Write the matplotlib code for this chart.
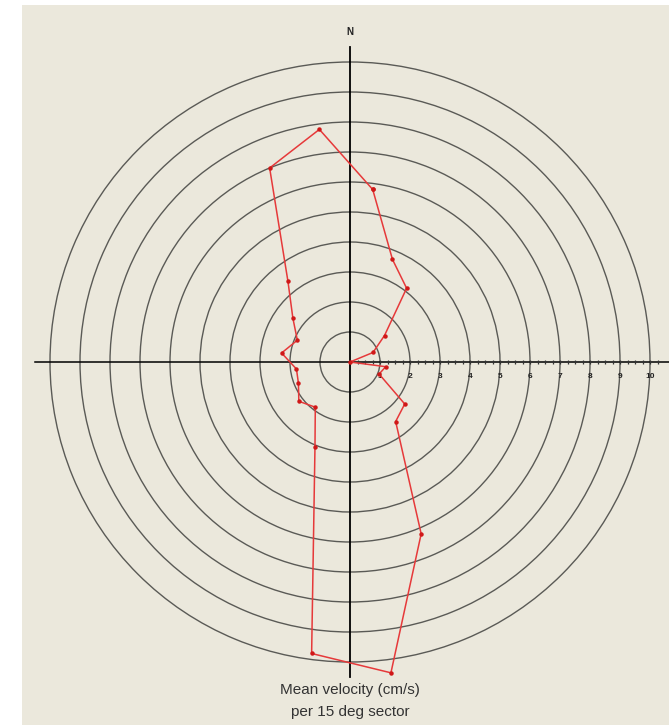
import numpy as np
import matplotlib
matplotlib.use("Agg")
import matplotlib.pyplot as plt
from matplotlib.patches import Rectangle

# Sector centres (deg, compass bearing) and mean velocity (cm/s)
bearings = [7.5, 22.5, 37.5, 52.5, 67.5, 82.5, 97.5, 112.5, 127.5, 142.5, 157.5, 172.5,
            187.5, 202.5, 217.5, 232.5, 247.5, 262.5, 277.5, 292.5, 307.5, 322.5, 337.5, 352.5]
velocity = [5.8, 3.7, 3.1, 1.45, 0.83, 0.0, 1.2, 1.05, 2.3, 2.5, 6.2, 10.45,
            9.8, 3.05, 1.9, 2.15, 1.86, 1.8, 2.3, 1.9, 2.4, 3.4, 7.0, 7.82]
ring_values = [1, 2, 3, 4, 5, 6, 7, 8, 9, 10]
tick_labels = ["1", "2", "3", "4", "5", "6", "7", "8", "9", "10"]

W, H = 669, 725
DPI = 100
fig = plt.figure(figsize=(W / DPI, H / DPI), dpi=DPI, facecolor="white")

# beige panel
fig.patches.append(Rectangle((22 / W, 0), 1 - 22 / W, (H - 5) / H,
                             transform=fig.transFigure, facecolor="#ebe8dc",
                             edgecolor="none", zorder=-10))

RMAX = 10.7
px_per_unit = 30
cx, cy = 350, 362  # centre in pixel coords from top-left
half = RMAX * px_per_unit
ax = fig.add_axes([(cx - half) / W, (H - cy - half) / H, 2 * half / W, 2 * half / H],
                  projection="polar")
ax.set_facecolor("none")
ax.set_theta_zero_location("N")
ax.set_theta_direction(-1)
ax.set_rlim(0, RMAX)
ax.spines["polar"].set_visible(False)
ax.set_xticks([])
ax.set_rgrids(ring_values, labels=[""] * len(ring_values))
ax.yaxis.grid(True, color="#5a5a56", linewidth=1.0)
ax.xaxis.grid(False)
ax.tick_params(axis="y", length=0)

# cross axes
ax.plot([0, 0], [0, 10.5], color="black", lw=1.3, clip_on=False, zorder=3)
ax.plot([np.pi, np.pi], [0, 10.5], color="black", lw=1.3, clip_on=False, zorder=3)
ax.plot([np.pi / 2, np.pi / 2], [0, 10.65], color="black", lw=1.1, clip_on=False, zorder=3)
ax.plot([3 * np.pi / 2, 3 * np.pi / 2], [0, 10.5], color="black", lw=1.1, clip_on=False, zorder=3)

# ticks along east axis
minor_r = np.arange(0.25, 10.5, 0.25)
ax.plot(np.full_like(minor_r, np.pi / 2), minor_r, linestyle="none", marker="|",
        markersize=3, color="#333333", markeredgewidth=0.9, clip_on=False, zorder=3)
for val, lab in zip(ring_values, tick_labels):
    ax.annotate(lab, xy=(np.pi / 2, val), xytext=(0, -15), textcoords="offset pixels",
                ha="center", va="center", fontsize=6, fontweight="bold", color="#222222",
                family="Liberation Sans", zorder=4)

# data polygon
theta = np.deg2rad(bearings + bearings[:1])
r = np.array(velocity + velocity[:1])
ax.plot(theta, r, color="#e6393a", lw=1.1, marker="o", markersize=2.2,
        markerfacecolor="#d01818", markeredgecolor="#d01818", zorder=5, clip_on=False)

fig.text(cx / W, 1 - 32 / H, "N", ha="center", va="center", fontsize=7,
         fontweight="bold", color="#222222", family="Liberation Sans")
fig.text(cx / W, 1 - 690 / H, "Mean velocity (cm/s)", ha="center", va="center",
         fontsize=11, color="#333333", family="Liberation Sans")
fig.text(cx / W, 1 - 712 / H, "per 15 deg sector", ha="center", va="center",
         fontsize=11, color="#333333", family="Liberation Sans")

fig.savefig("out.png", dpi=DPI, facecolor=fig.get_facecolor())
